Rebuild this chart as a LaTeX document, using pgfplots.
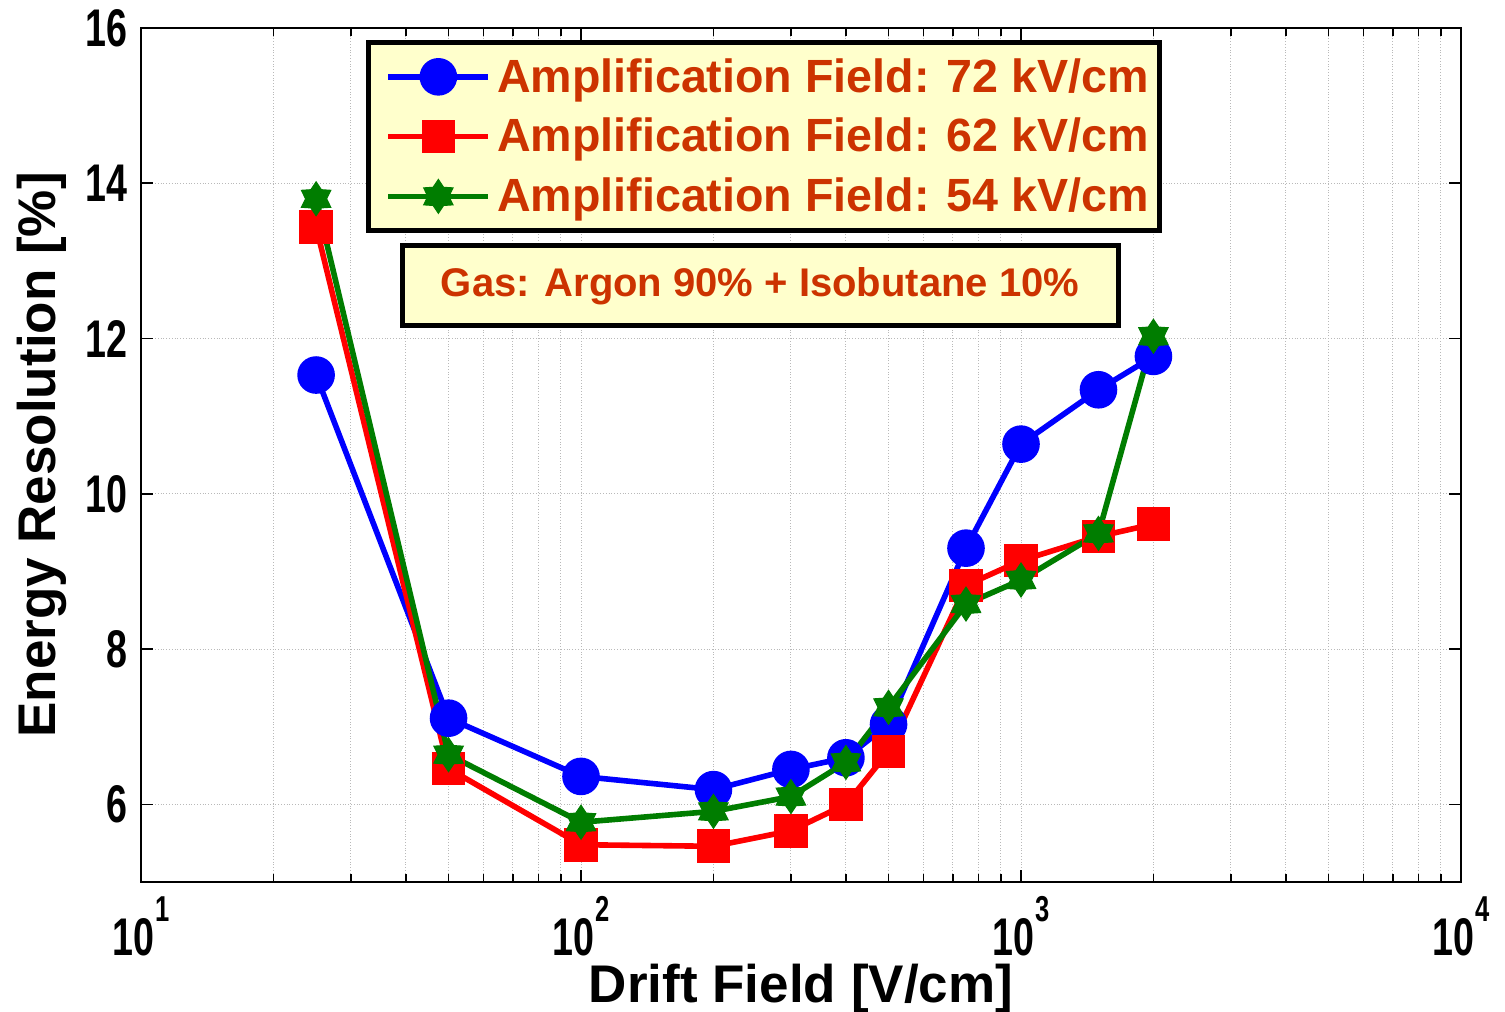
\documentclass[border=0pt]{standalone}
\usepackage{fontspec}
\setmainfont{Liberation Sans}
\usepackage{graphicx}
\usepackage{pgfplots}
\pgfplotsset{compat=1.18}
\usetikzlibrary{plotmarks}

\definecolor{legtext}{RGB}{204,51,0}
\definecolor{legfill}{RGB}{255,255,204}
\definecolor{mgreen}{RGB}{0,125,0}

\pgfdeclareplotmark{hexstar}{%
  \pgfpathmoveto{\pgfpointpolar{90}{\pgfplotmarksize}}%
  \pgfpathlineto{\pgfpointpolar{120}{0.62*\pgfplotmarksize}}%
  \pgfpathlineto{\pgfpointpolar{150}{\pgfplotmarksize}}%
  \pgfpathlineto{\pgfpointpolar{180}{0.62*\pgfplotmarksize}}%
  \pgfpathlineto{\pgfpointpolar{210}{\pgfplotmarksize}}%
  \pgfpathlineto{\pgfpointpolar{240}{0.62*\pgfplotmarksize}}%
  \pgfpathlineto{\pgfpointpolar{270}{\pgfplotmarksize}}%
  \pgfpathlineto{\pgfpointpolar{300}{0.62*\pgfplotmarksize}}%
  \pgfpathlineto{\pgfpointpolar{330}{\pgfplotmarksize}}%
  \pgfpathlineto{\pgfpointpolar{0}{0.62*\pgfplotmarksize}}%
  \pgfpathlineto{\pgfpointpolar{30}{\pgfplotmarksize}}%
  \pgfpathlineto{\pgfpointpolar{60}{0.62*\pgfplotmarksize}}%
  \pgfpathclose
  \pgfusepathqfillstroke
}

\newcommand{\nt}[1]{\scalebox{0.71}[1]{#1}}
\newcommand{\pw}[1]{\scalebox{0.71}[1]{10\kern1pt\raisebox{17pt}{\fontsize{18}{18}\selectfont #1}}}

\begin{document}
\begin{tikzpicture}
\path[use as bounding box] (-70.5pt,-65pt) rectangle (682pt,441pt);
\begin{axis}[
  at={(0,0)}, anchor=south west,
  scale only axis, width=660pt, height=427pt,
  xmode=log, xmin=10, xmax=10000, ymin=5, ymax=16,
  xtick={10,100,1000,10000},
  xticklabels={\pw{1},\pw{2},\pw{3},\pw{4}},
  minor xtick={20,30,40,50,60,70,80,90,200,300,400,500,600,700,800,900,2000,3000,4000,5000,6000,7000,8000,9000},
  ytick={6,8,10,12,14,16},
  yticklabels={\nt{6},\nt{8},\nt{10},\nt{12},\nt{14},\nt{16}},
  xmajorgrids, xminorgrids, ymajorgrids,
  major grid style={densely dotted, gray!55, line width=0.5pt},
  minor grid style={densely dotted, gray!55, line width=0.5pt},
  tick align=inside,
  major tick length=6pt, minor tick length=4pt,
  tick style={black, line width=0.8pt},
  axis line style={line width=1pt},
  tick label style={font=\fontsize{26.5}{26.5}\selectfont\bfseries, inner sep=0pt},
  xticklabel style={anchor=base, yshift=-36.5pt},
  yticklabel style={anchor=east, xshift=-6.5pt},
  xlabel={Drift Field [V/cm]},
  ylabel={Energy Resolution [\%]},
  label style={font=\fontsize{26.5}{26.5}\selectfont\bfseries},
  xlabel style={at={(axis description cs:0.5,0)}, anchor=base, yshift=-60pt},
  ylabel style={at={(axis description cs:0,0.5)}, anchor=base, yshift=43pt},
  legend style={at={(0.1705,0.986)}, anchor=north west,
    fill=legfill, draw=black, line width=2.5pt,
    font=\fontsize{23.3}{23.3}\selectfont\bfseries, text=legtext,
    inner xsep=3.5pt, inner ysep=6pt, row sep=7.5pt,
    legend cell align=left},
  legend image code/.code={%
    \path (0pt,0pt) (56pt,0pt);
    \draw[mark repeat=2,mark phase=2] plot coordinates {(5pt,0pt) (30pt,0pt) (55pt,0pt)};},
]
\addplot[blue, line width=2.8pt, mark=*, mark size=8pt, mark options={solid, fill=blue}]
coordinates {(25,11.53) (50,7.11) (100,6.36) (200,6.19) (300,6.45) (400,6.60) (500,7.03) (750,9.30) (1000,10.64) (1500,11.34) (2000,11.77)};
\addlegendentry{Amplification Field: 72 kV/cm}
\addplot[red, line width=2.8pt, mark=square*, mark size=7pt, mark options={solid, fill=red}]
coordinates {(25,13.44) (50,6.46) (100,5.48) (200,5.46) (300,5.66) (400,6.00) (500,6.68) (750,8.82) (1000,9.14) (1500,9.45) (2000,9.61)};
\addlegendentry{Amplification Field: 62 kV/cm}
\addplot[mgreen, line width=2.8pt, mark=hexstar, mark size=8.5pt, mark options={solid, fill=mgreen, line width=0.5pt}]
coordinates {(25,13.80) (50,6.64) (100,5.77) (200,5.91) (300,6.10) (400,6.54) (500,7.25) (750,8.58) (1000,8.89) (1500,9.49) (2000,12.03)};
\addlegendentry{Amplification Field: 54 kV/cm}
\node[draw=black, line width=2.5pt, fill=legfill, minimum width=358pt, minimum height=40pt,
  text=legtext, font=\fontsize{20}{20}\selectfont\bfseries, inner sep=0pt]
  at (rel axis cs:0.469,0.698) {Gas: Argon 90\% + Isobutane 10\%};
\end{axis}
\end{tikzpicture}
\end{document}
